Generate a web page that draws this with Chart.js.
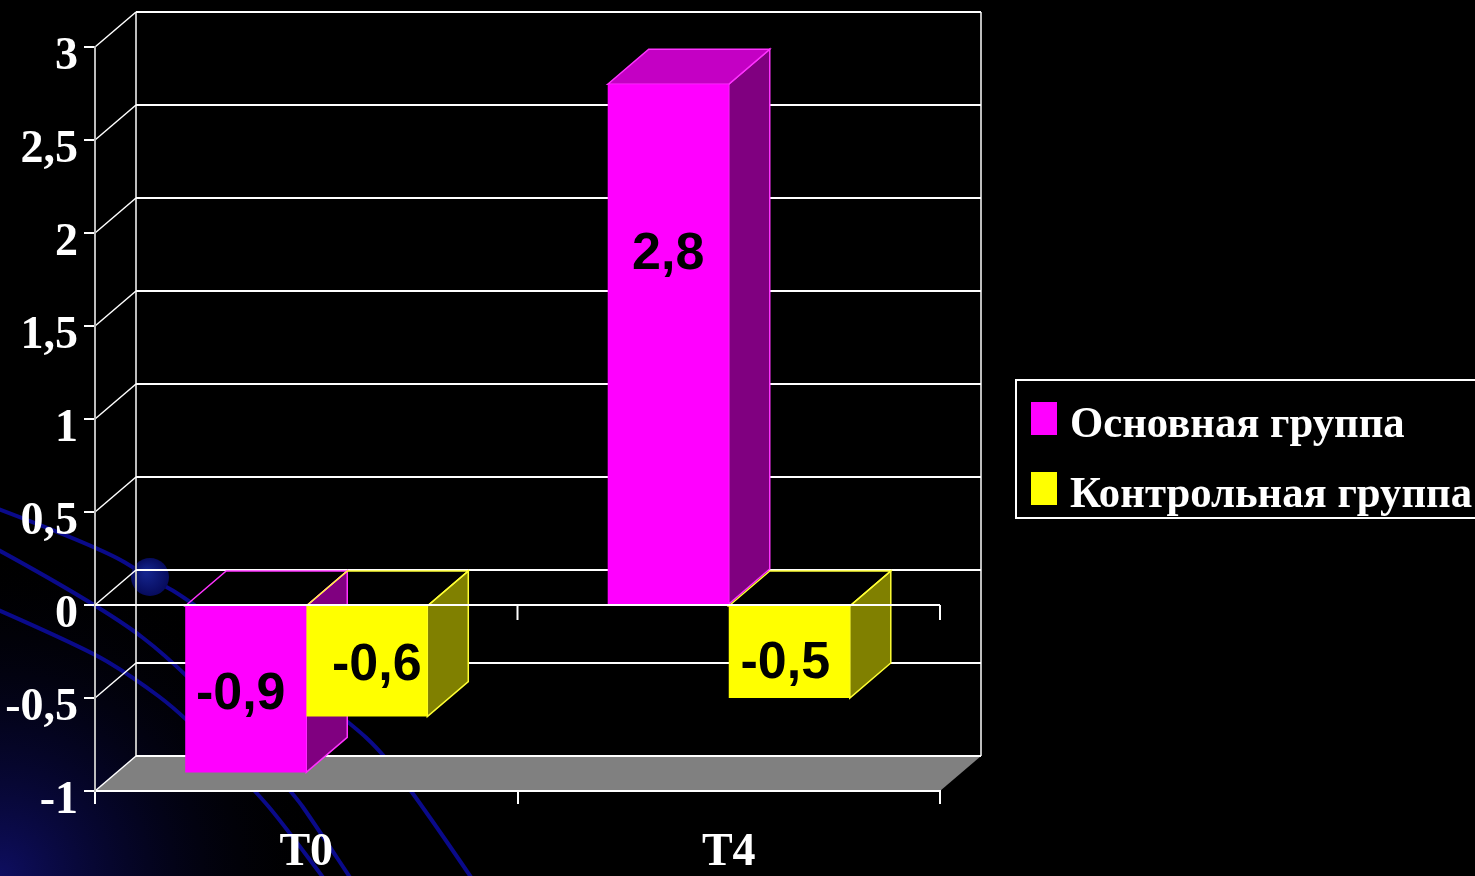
<!DOCTYPE html>
<html>
<head>
<meta charset="utf-8">
<title>Основная и контрольная группа</title>
<script src="https://cdn.jsdelivr.net/npm/chart.js@4.4.1/dist/chart.umd.min.js"></script>
<style>
  html, body { margin: 0; padding: 0; background: #000; overflow: hidden; }
  canvas { display: block; }
</style>
</head>
<body>
<canvas id="chart" width="1475" height="876"></canvas>
<script>
// ---- data ----
const categories = ['T0', 'T4'];
const seriesNames = ['Основная группа', 'Контрольная группа'];
const mainGroup = [-0.9, 2.8];
const controlGroup = [-0.6, -0.5];
const yMin = -1;
const yMax = 3;
const yStep = 0.5;

// ---- styling ----
const SERIF = '"Liberation Serif", "Times New Roman", serif';
const SANS = '"Liberation Sans", Arial, sans-serif';
const DEPTH_X = 41;   // horizontal depth of the 3D box
const DEPTH_Y = -35;  // vertical depth of the 3D box
const faces = [
  { front: '#ff00ff', side: '#800080', top: '#c400c4', edge: '#ff33ff' },
  { front: '#ffff00', side: '#808000', top: '#c4c400', edge: '#ffff33' }
];
// value label nudges [dx, dy] from the centre of each front face, per series / category
const labelNudge = [
  [[-5, 5], [0, -89]],
  [[10, 4], [-4, 12]]
];

const fmt = v => String(Math.round(v * 10) / 10).replace('.', ',');

// smooth curve through a list of points
function smoothPath(ctx, pts) {
  ctx.moveTo(pts[0][0], pts[0][1]);
  for (let i = 1; i < pts.length - 1; i++) {
    const mx = (pts[i][0] + pts[i + 1][0]) / 2;
    const my = (pts[i][1] + pts[i + 1][1]) / 2;
    ctx.quadraticCurveTo(pts[i][0], pts[i][1], mx, my);
  }
  const last = pts[pts.length - 1];
  ctx.lineTo(last[0], last[1]);
}

function poly(ctx, pts) {
  ctx.beginPath();
  ctx.moveTo(pts[0][0], pts[0][1]);
  for (let i = 1; i < pts.length; i++) ctx.lineTo(pts[i][0], pts[i][1]);
  ctx.closePath();
}

// slide backdrop: black field, blue glow in the lower-left corner, thin arcs and a dot
const backdrop = {
  id: 'backdrop',
  beforeDraw(chart) {
    const ctx = chart.ctx;
    const W = chart.width, H = chart.height;
    ctx.save();
    ctx.fillStyle = '#000000';
    ctx.fillRect(0, 0, W, H);

    const g = ctx.createRadialGradient(0, H, 0, 0, H, 330);
    g.addColorStop(0, 'rgba(14,14,96,1)');
    g.addColorStop(0.45, 'rgba(8,8,64,0.5)');
    g.addColorStop(1, 'rgba(0,0,0,0)');
    ctx.fillStyle = g;
    ctx.fillRect(0, 0, W, H);

    const arcs = [
      [[-20, 502], [100, 547], [150, 578], [190, 600], [347, 720], [385, 755], [432, 820], [490, 905]],
      [[-20, 540], [100, 605], [185, 670], [293, 793], [312, 820], [365, 900]],
      [[-20, 602], [83, 647], [133, 677], [185, 716], [257, 793], [280, 820], [340, 900]]
    ];
    ctx.strokeStyle = '#0a0a8a';
    ctx.lineWidth = 4;
    arcs.forEach(a => { ctx.beginPath(); smoothPath(ctx, a); ctx.stroke(); });

    const dot = ctx.createRadialGradient(146, 572, 2, 150, 577, 20);
    dot.addColorStop(0, '#14248c');
    dot.addColorStop(1, '#060a5a');
    ctx.fillStyle = dot;
    ctx.beginPath();
    ctx.arc(150, 577, 19, 0, Math.PI * 2);
    ctx.fill();
    ctx.restore();
  }
};

// back wall, side wall grid and floor of the 3D plot box
const walls = {
  id: 'walls',
  beforeDraw(chart) {
    const ctx = chart.ctx;
    const { left, right, top, bottom } = chart.chartArea;
    const ys = chart.scales.y;
    ctx.save();
    // floor
    ctx.fillStyle = '#808080';
    poly(ctx, [[left, bottom], [right, bottom], [right + DEPTH_X, bottom + DEPTH_Y], [left + DEPTH_X, bottom + DEPTH_Y]]);
    ctx.fill();
    // back corner verticals
    ctx.strokeStyle = '#bdbdbd';
    ctx.lineWidth = 2;
    [left + DEPTH_X, right + DEPTH_X].forEach(x => {
      ctx.beginPath();
      ctx.moveTo(x, top + DEPTH_Y);
      ctx.lineTo(x, bottom + DEPTH_Y);
      ctx.stroke();
    });
    // grid lines along the side wall and the back wall
    ys.ticks.forEach(t => {
      const py = ys.getPixelForValue(t.value);
      ctx.strokeStyle = '#ffffff';
      ctx.lineWidth = 1.5;
      ctx.beginPath();
      ctx.moveTo(left, py);
      ctx.lineTo(left + DEPTH_X, py + DEPTH_Y);
      ctx.stroke();
      ctx.lineWidth = 2;
      ctx.beginPath();
      ctx.moveTo(left + DEPTH_X, py + DEPTH_Y);
      ctx.lineTo(right + DEPTH_X, py + DEPTH_Y);
      ctx.stroke();
    });
    ctx.restore();
  }
};

// side and top faces of every bar, drawn before the front faces
const boxes = {
  id: 'boxes',
  beforeDatasetsDraw(chart) {
    const ctx = chart.ctx;
    ctx.save();
    ctx.lineWidth = 1.5;
    chart.data.datasets.forEach((ds, di) => {
      const meta = chart.getDatasetMeta(di);
      const c = faces[di];
      meta.data.forEach((el, i) => {
        const p = el.getProps(['x', 'y', 'base', 'width'], true);
        const l = p.x - p.width / 2, r = p.x + p.width / 2;
        const t = Math.min(p.y, p.base), b = Math.max(p.y, p.base);
        // side face
        poly(ctx, [[r, t], [r + DEPTH_X, t + DEPTH_Y], [r + DEPTH_X, b + DEPTH_Y], [r, b]]);
        ctx.fillStyle = c.side;
        ctx.fill();
        ctx.strokeStyle = c.edge;
        ctx.stroke();
        // top face
        poly(ctx, [[l, t], [l + DEPTH_X, t + DEPTH_Y], [r + DEPTH_X, t + DEPTH_Y], [r, t]]);
        if (ds.data[i] >= 0) {
          ctx.fillStyle = c.top;
          ctx.fill();
        }
        ctx.strokeStyle = c.edge;
        ctx.stroke();
      });
    });
    ctx.restore();
  },
  afterDatasetsDraw(chart) {
    const ctx = chart.ctx;
    const { left, right } = chart.chartArea;
    const ys = chart.scales.y;
    const y0 = ys.getPixelForValue(0);
    ctx.save();
    // category axis at zero, on the front plane
    ctx.strokeStyle = '#ffffff';
    ctx.lineWidth = 2;
    ctx.beginPath();
    ctx.moveTo(left, y0);
    ctx.lineTo(right, y0);
    const n = chart.data.labels.length;
    for (let i = 1; i <= n; i++) {
      const bx = left + (right - left) * i / n;
      ctx.moveTo(bx, y0);
      ctx.lineTo(bx, y0 + 15);
    }
    ctx.stroke();

    // value labels
    ctx.fillStyle = '#000000';
    ctx.font = 'bold 52px ' + SANS;
    ctx.textAlign = 'center';
    ctx.textBaseline = 'middle';
    chart.data.datasets.forEach((ds, di) => {
      chart.getDatasetMeta(di).data.forEach((el, i) => {
        const p = el.getProps(['x', 'y', 'base'], true);
        const cy = (p.y + p.base) / 2;
        const [nx, ny] = labelNudge[di][i];
        ctx.fillText(fmt(ds.data[i]), p.x + nx, cy + ny);
      });
    });
    ctx.restore();
  },
  afterDraw(chart) {
    // legend box
    const ctx = chart.ctx;
    ctx.save();
    ctx.strokeStyle = '#ffffff';
    ctx.lineWidth = 2;
    ctx.strokeRect(1016, 380, 520, 138);
    ctx.font = 'bold 45px ' + SERIF;
    ctx.textAlign = 'left';
    ctx.textBaseline = 'alphabetic';
    chart.data.datasets.forEach((ds, di) => {
      const rowY = 402 + di * 70;
      ctx.fillStyle = faces[di].front;
      ctx.fillRect(1031, rowY, 26, 33);
      ctx.fillStyle = '#ffffff';
      ctx.save();
      ctx.translate(1070, rowY + 35);
      ctx.scale(0.95, 1);
      ctx.fillText(ds.label, 0, 0);
      ctx.restore();
    });
    ctx.restore();
  }
};

new Chart(document.getElementById('chart'), {
  type: 'bar',
  data: {
    labels: categories,
    datasets: [
      { label: seriesNames[0], data: mainGroup, backgroundColor: faces[0].front },
      { label: seriesNames[1], data: controlGroup, backgroundColor: faces[1].front }
    ]
  },
  options: {
    responsive: false,
    animation: false,
    devicePixelRatio: 1,
    layout: { padding: { left: 0, right: 535, top: 47, bottom: 0 } },
    datasets: { bar: { categoryPercentage: 0.573, barPercentage: 1, borderWidth: 0 } },
    plugins: { legend: { display: false }, tooltip: { enabled: false } },
    scales: {
      x: {
        offset: true,
        grid: { display: true, offset: true, drawOnChartArea: false, drawTicks: true, tickLength: 13, color: '#ffffff', lineWidth: 2 },
        border: { display: true, color: '#ffffff', width: 2 },
        ticks: { color: '#ffffff', font: { family: SERIF, weight: 'bold', size: 46 }, padding: 22, maxRotation: 0 },
        afterFit: s => { s.height = 85; }
      },
      y: {
        min: yMin,
        max: yMax,
        grid: { drawOnChartArea: false, drawTicks: true, tickLength: 11, color: '#ffffff', lineWidth: 2 },
        border: { display: true, color: '#bdbdbd', width: 2 },
        ticks: {
          stepSize: yStep,
          color: '#ffffff',
          font: { family: SERIF, weight: 'bold', size: 46 },
          padding: 6,
          labelOffset: 10,
          callback: v => fmt(v)
        },
        afterFit: s => { s.width = 95; }
      }
    }
  },
  plugins: [backdrop, walls, boxes]
});
</script>
</body>
</html>
